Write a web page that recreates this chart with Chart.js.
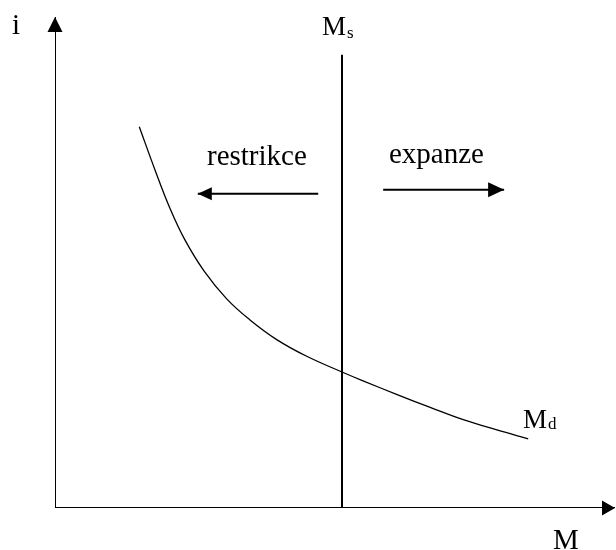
<!DOCTYPE html>
<html>
<head>
<meta charset="utf-8">
<script src="https://cdn.jsdelivr.net/npm/chart.js@4.4.1/dist/chart.umd.min.js"></script>
<style>
  html, body { margin: 0; padding: 0; background: #fff; }
  #wrap { width: 616px; height: 550px; }
</style>
</head>
<body>
<div id="wrap"><canvas id="chart" width="616" height="550"></canvas></div>
<script>
// Data (diagram units, axes go 0..100)
const demandX = [15.05, 17.86, 20.54, 23.2, 26.6, 30.66, 34.82, 39.59, 44.95, 51.25, 55.0, 61.1, 67.0, 72.9, 78.9, 84.5];
const demandY = [77.66, 68.84, 61.0, 54.6, 48.3, 42.6, 38.3, 34.3, 30.9, 27.7, 25.9, 23.1, 20.5, 18.0, 15.9, 14.1];
const supplyX = [51.25, 51.25];
const supplyY = [0, 92.3];
const restrikceX = [47.0, 25.5];
const restrikceY = [64.0, 64.0];
const expanzeX = [58.6, 80.2];
const expanzeY = [64.8, 64.8];
const xAxisX = [0, 100];
const xAxisY = [0, 0];
const yAxisX = [0, 0];
const yAxisY = [0, 100];

function pts(xs, ys) {
    return xs.map((x, i) => ({ x: x, y: ys[i] }));
}

function lineSet(xs, ys, width, arrow) {
    return {
        data: pts(xs, ys),
        borderColor: '#000',
        borderWidth: width,
        pointRadius: 0,
        fill: false,
        arrow: arrow
    };
}

// arrowheads at the last point of datasets that ask for it
const arrowPlugin = {
    id: 'arrows',
    afterDatasetsDraw(chart) {
        const ctx = chart.ctx;
        chart.data.datasets.forEach((ds, i) => {
            if (!ds.arrow) return;
            const meta = chart.getDatasetMeta(i);
            const n = meta.data.length;
            const p1 = meta.data[n - 2], p2 = meta.data[n - 1];
            const ang = Math.atan2(p2.y - p1.y, p2.x - p1.x);
            const len = ds.arrow.len, half = ds.arrow.w / 2;
            ctx.save();
            ctx.translate(p2.x, p2.y);
            ctx.rotate(ang);
            ctx.beginPath();
            ctx.moveTo(0, 0);
            ctx.lineTo(-len, -half);
            ctx.lineTo(-len, half);
            ctx.closePath();
            ctx.fillStyle = '#000';
            ctx.fill();
            ctx.restore();
        });
    }
};

// text labels
const labelPlugin = {
    id: 'labels',
    afterDraw(chart) {
        const ctx = chart.ctx;
        const serif = '"Liberation Serif", "Times New Roman", serif';
        ctx.save();
        ctx.fillStyle = '#000';
        ctx.textAlign = 'left';
        ctx.textBaseline = 'alphabetic';
        ctx.font = '29px ' + serif;
        ctx.fillText('i', 12, 34);
        ctx.fillText('restrikce', 207, 165);
        ctx.fillText('expanze', 389, 163);
        ctx.fillText('M', 553, 549);
        ctx.font = '27px ' + serif;
        ctx.fillText('M', 322, 35);
        ctx.fillText('M', 523, 428);
        ctx.font = '17px ' + serif;
        ctx.fillText('s', 347, 38);
        ctx.fillText('d', 548, 429);
        ctx.restore();
    }
};

new Chart(document.getElementById('chart').getContext('2d'), {
    type: 'scatter',
    data: {
        datasets: [
            lineSet(xAxisX, xAxisY, 2, { len: 13, w: 15 }),
            lineSet(yAxisX, yAxisY, 2, { len: 15, w: 15 }),
            lineSet(supplyX, supplyY, 2, null),
            lineSet(restrikceX, restrikceY, 2, { len: 14, w: 13 }),
            lineSet(expanzeX, expanzeY, 2, { len: 16, w: 15 }),
            Object.assign(lineSet(demandX, demandY, 1.3, null), { tension: 0.4 })
        ]
    },
    options: {
        responsive: false,
        animation: false,
        showLine: true,
        layout: { padding: { left: 55, right: 1, top: 17, bottom: 42 } },
        plugins: {
            legend: { display: false },
            tooltip: { enabled: false }
        },
        scales: {
            x: { type: 'linear', min: 0, max: 100, display: false },
            y: { type: 'linear', min: 0, max: 100, display: false }
        }
    },
    plugins: [arrowPlugin, labelPlugin]
});
</script>
</body>
</html>
